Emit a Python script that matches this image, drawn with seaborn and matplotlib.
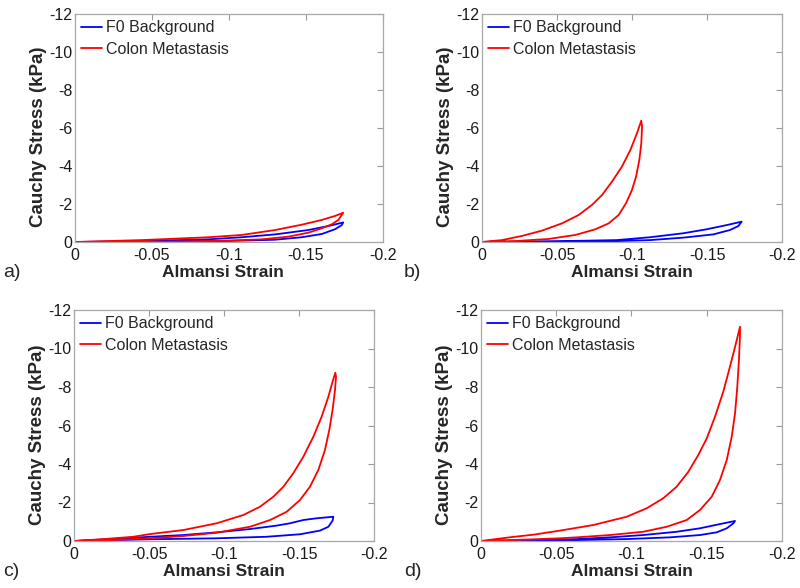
import matplotlib
matplotlib.use("Agg")
import matplotlib.pyplot as plt
import seaborn as sns
import pandas as pd

# ---- data (strain, stress) ----
series_names = ["F0 Background", "Colon Metastasis"]
x_ticks = [0, -0.05, -0.1, -0.15, -0.2]
x_tick_labels = ["0", "-0.05", "-0.1", "-0.15", "-0.2"]
y_ticks = [0, -2, -4, -6, -8, -10, -12]
y_tick_labels = ["0", "-2", "-4", "-6", "-8", "-10", "-12"]
panel_labels = ["a)", "b)", "c)", "d)"]

# panel a
a_bg_strain = [0, -0.0433, -0.0866, -0.1082, -0.1299, -0.1515, -0.1645, -0.1742,
               -0.1732, -0.1688, -0.1602, -0.1472, -0.1299, -0.0974, -0.05, 0]
a_bg_stress = [0, -0.05, -0.14, -0.25, -0.40, -0.63, -0.84, -1.03,
               -0.89, -0.67, -0.42, -0.25, -0.12, -0.05, -0.01, 0]
a_cm_strain = [0, -0.0433, -0.0866, -0.1082, -0.1299, -0.1472, -0.1602, -0.1688, -0.1742,
               -0.171, -0.1667, -0.1602, -0.1515, -0.1385, -0.1212, -0.0974, -0.065, 0]
a_cm_stress = [0, -0.10, -0.25, -0.37, -0.63, -0.91, -1.16, -1.37, -1.54,
               -1.16, -0.93, -0.72, -0.49, -0.28, -0.14, -0.07, -0.02, 0]

# panel b
b_bg_strain = [0, -0.05, -0.0898, -0.112, -0.1342, -0.1498, -0.1631, -0.1731,
               -0.1709, -0.1653, -0.1542, -0.1342, -0.112, -0.0787, 0]
b_bg_stress = [0, -0.04, -0.10, -0.25, -0.46, -0.67, -0.89, -1.07,
               -0.84, -0.63, -0.40, -0.23, -0.10, -0.02, 0]
b_cm_strain = [0, -0.0133, -0.0267, -0.04, -0.0533, -0.0644, -0.0733, -0.08, -0.0867, -0.0933,
               -0.0989, -0.1033, -0.1062,
               -0.1067, -0.1062, -0.1049, -0.1027, -0.10, -0.096, -0.0911, -0.0844, -0.0756,
               -0.0622, -0.0444, -0.0222, 0]
b_cm_stress = [0, -0.10, -0.32, -0.60, -0.98, -1.42, -1.95, -2.47, -3.18, -3.97,
               -4.84, -5.72, -6.39,
               -6.07, -5.19, -4.32, -3.44, -2.74, -2.04, -1.42, -0.98, -0.67,
               -0.37, -0.16, -0.05, 0]

# panel c
c_bg_strain = [0, -0.025, -0.0507, -0.0729, -0.0951, -0.1173, -0.1351, -0.144, -0.1529, -0.1618, -0.1729,
               -0.1724, -0.1696, -0.164, -0.1507, -0.1284, -0.0951, -0.0507, 0]
c_bg_stress = [0, -0.10, -0.22, -0.31, -0.45, -0.62, -0.80, -0.92, -1.09, -1.18, -1.26,
               -1.06, -0.74, -0.54, -0.35, -0.22, -0.14, -0.09, 0]
c_cm_strain = [0, -0.02, -0.0395, -0.0507, -0.0729, -0.0951, -0.1129, -0.124, -0.1329, -0.1396,
               -0.1462, -0.1529, -0.1596, -0.1651, -0.1696, -0.1724, -0.1742,
               -0.1747, -0.174, -0.1724, -0.1702, -0.1673, -0.1629, -0.1573, -0.1507, -0.1418,
               -0.1307, -0.1173, -0.0951, -0.0729, -0.0507, -0.025, 0]
c_cm_stress = [0, -0.10, -0.22, -0.36, -0.57, -0.92, -1.35, -1.78, -2.30, -2.82,
               -3.52, -4.38, -5.42, -6.46, -7.50, -8.28, -8.74,
               -8.54, -7.84, -6.81, -5.77, -4.73, -3.69, -2.82, -2.13, -1.52,
               -1.09, -0.74, -0.43, -0.26, -0.14, -0.05, 0]

# panel d
d_bg_strain = [0, -0.0525, -0.0636, -0.0857, -0.1078, -0.13, -0.1455, -0.1588, -0.1688,
               -0.1677, -0.1633, -0.1566, -0.1455, -0.1256, -0.0968, -0.0525, 0]
d_bg_stress = [0, -0.07, -0.10, -0.19, -0.31, -0.48, -0.66, -0.88, -1.04,
               -0.92, -0.66, -0.45, -0.31, -0.19, -0.10, -0.03, 0]
d_cm_strain = [0, -0.02, -0.035, -0.0525, -0.0746, -0.0968, -0.1101, -0.1211, -0.13, -0.1378,
               -0.1444, -0.15, -0.1555, -0.161, -0.1654, -0.1694, -0.1721,
               -0.1721, -0.1714, -0.1703, -0.1688, -0.1666, -0.1633, -0.1588, -0.1533, -0.1455,
               -0.1367, -0.1234, -0.1078, -0.0857, -0.0636, -0.0525, -0.025, 0]
d_cm_stress = [0, -0.20, -0.33, -0.54, -0.83, -1.26, -1.70, -2.22, -2.82, -3.60,
               -4.47, -5.33, -6.46, -7.76, -9.05, -10.27, -11.13,
               -10.70, -9.40, -8.02, -6.63, -5.42, -4.21, -3.17, -2.30, -1.61,
               -1.09, -0.74, -0.48, -0.31, -0.19, -0.14, -0.06, 0]

panels = [
    (a_bg_strain, a_bg_stress, a_cm_strain, a_cm_stress),
    (b_bg_strain, b_bg_stress, b_cm_strain, b_cm_stress),
    (c_bg_strain, c_bg_stress, c_cm_strain, c_cm_stress),
    (d_bg_strain, d_bg_stress, d_cm_strain, d_cm_stress),
]

sns.set_style("white")
plt.rcParams["font.family"] = ["Liberation Sans", "DejaVu Sans"]

fig = plt.figure(figsize=(8, 5.88), dpi=100)
W, H = 800, 588
# axes boxes in pixels: left, top, right, bottom
boxes = [(75, 14, 383, 242), (482, 14, 782, 242), (74, 310, 374, 541), (481, 310, 782, 541)]
label_pos = [(3, 272), (404, 272), (3, 572), (404, 572)]
xlabel_cx = [223, 632, 224, 632]   # centre of x-label in pixels
colors = ["#0000ff", "#ff0000"]

for i, (box, data) in enumerate(zip(boxes, panels)):
    l, t, r, b = box
    w, h = r - l, b - t
    ax = fig.add_axes([l / W, 1 - b / H, w / W, h / H])
    bx, by, cx, cy = data
    df_bg = pd.DataFrame({"strain": bx, "stress": by})
    df_cm = pd.DataFrame({"strain": cx, "stress": cy})
    sns.lineplot(data=df_bg, x="strain", y="stress", sort=False, estimator=None,
                 color=colors[0], lw=1.3, ax=ax, label=series_names[0])
    sns.lineplot(data=df_cm, x="strain", y="stress", sort=False, estimator=None,
                 color=colors[1], lw=1.3, ax=ax, label=series_names[1])
    ax.set_xlim(0, -0.2)
    ax.set_ylim(0, -12)
    ax.set_xticks(x_ticks)
    ax.set_xticklabels(x_tick_labels)
    ax.set_yticks(y_ticks)
    ax.set_yticklabels(y_tick_labels)
    ax.tick_params(direction="in", top=True, right=True, length=4, width=0.8,
                   color="#9a9a9a", labelsize=11.5, labelcolor="#1a1a1a")
    ax.tick_params(axis="x", pad=4)
    ax.tick_params(axis="y", pad=2)
    for s in ax.spines.values():
        s.set_color("#a8a8a8")
        s.set_linewidth(0.9)
    ax.set_xlabel("Almansi Strain", fontsize=12.5, fontweight="bold")
    ax.set_ylabel("Cauchy Stress (kPa)", fontsize=13.5, fontweight="bold")
    ax.xaxis.set_label_coords((xlabel_cx[i] - l) / w, -23 / h)
    ax.yaxis.set_label_coords(-28 / w, 0.46)
    ax.legend(loc="upper left", frameon=False, fontsize=11.5, handlelength=1.3,
              handletextpad=0.25, borderaxespad=0.2, labelspacing=0.4,
              borderpad=0.2)
    fig.text(label_pos[i][0] / W, 1 - label_pos[i][1] / H, panel_labels[i],
             fontsize=14, va="center", ha="left")

fig.savefig("out.png", dpi=100)
